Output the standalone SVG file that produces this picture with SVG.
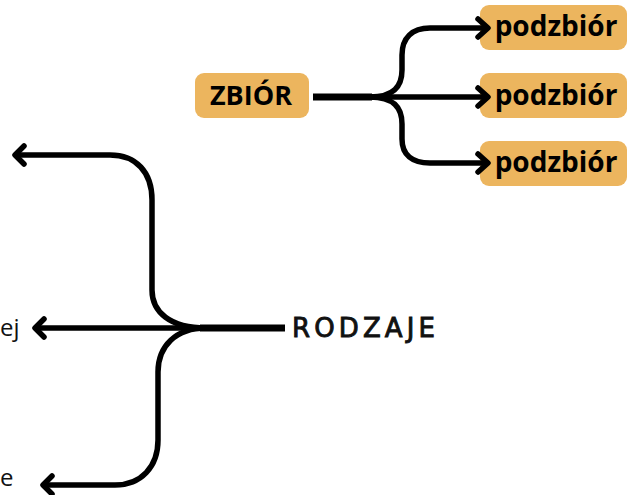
<svg xmlns="http://www.w3.org/2000/svg" width="632" height="495" viewBox="0 0 632 495">
  <defs>
    <style>
      .wire { fill: none; stroke: #000; stroke-width: 5.5; stroke-linecap: round; stroke-linejoin: round; }
      .trunk { fill: none; stroke: #000; stroke-width: 7; stroke-linecap: butt; }
      .head { fill: none; stroke: #000; stroke-width: 5.5; stroke-linecap: round; stroke-linejoin: round; }
      .box { fill: #ECB55E; }
      .lbl { font-family: "Open Sans", "Noto Sans", sans-serif; font-weight: 700; fill: #000; }
      .side { font-family: "Open Sans", "Noto Sans", sans-serif; font-size: 24px; fill: #111; }
      .hand { font-family: "DejaVu Sans", sans-serif; font-weight: 400; font-size: 26px; fill: #111; stroke: #111; stroke-width: 0.9; }
    </style>
  </defs>

  <g id="zbior">
    <rect class="box" x="195" y="73" width="114" height="45" rx="9"/>
    <text class="lbl" x="251" y="105" font-size="27" text-anchor="middle">ZBIÓR</text>
  </g>

  <g id="podzbior-1">
    <rect class="box" x="480" y="5" width="147" height="45" rx="9"/>
    <text class="lbl" x="556" y="36" font-size="28" text-anchor="middle">podzbiór</text>
  </g>
  <g id="podzbior-2">
    <rect class="box" x="480" y="73" width="147" height="45" rx="9"/>
    <text class="lbl" x="556" y="105" font-size="28" text-anchor="middle">podzbiór</text>
  </g>
  <g id="podzbior-3">
    <rect class="box" x="480" y="141" width="147" height="45" rx="9"/>
    <text class="lbl" x="556" y="172" font-size="28" text-anchor="middle">podzbiór</text>
  </g>

  <g id="rodzaje">
    <text class="hand" x="292" y="337" textLength="143" lengthAdjust="spacing">RODZAJE</text>
  </g>

  <g id="kind-2">
    <text class="side" x="0" y="336">ej</text>
  </g>
  <g id="kind-3">
    <text class="side" x="0" y="486">e</text>
  </g>

  <!-- connectors, drawn last so the arrowheads sit over the box edges -->
  <g id="connectors">
    <!-- set to subsets -->
    <path class="trunk" d="M313,97 L372,97"/>
    <path class="wire" d="M370,97 L486,97"/>
    <path class="wire" d="M370,97 C394,97 402,86 402,70 L402,55 C402,38 412,28 430,28 L486,28"/>
    <path class="wire" d="M370,97 C394,97 402,108 402,124 L402,139 C402,155 412,163 430,163 L486,163"/>
    <path class="head" d="M478,88 L488,97 L478,106"/>
    <path class="head" d="M478,19 L488,28 L478,37"/>
    <path class="head" d="M478,154 L488,163 L478,172"/>

    <!-- kinds -->
    <path class="trunk" d="M285,328 L200,328"/>
    <path class="wire" d="M206,328 L36,328"/>
    <path class="wire" d="M206,328 C170,328 152,312 152,290 L152,200 C152,172 136,155 110,155 L16,155"/>
    <path class="wire" d="M206,328 C176,328 158,346 158,372 L158,440 C158,467 141,485 115,485 L44,485"/>
    <path class="head" d="M44,319 L35,328 L44,337"/>
    <path class="head" d="M24,146 L15,155 L24,164"/>
    <path class="head" d="M52,476 L43,485 L52,494"/>
  </g>
</svg>
